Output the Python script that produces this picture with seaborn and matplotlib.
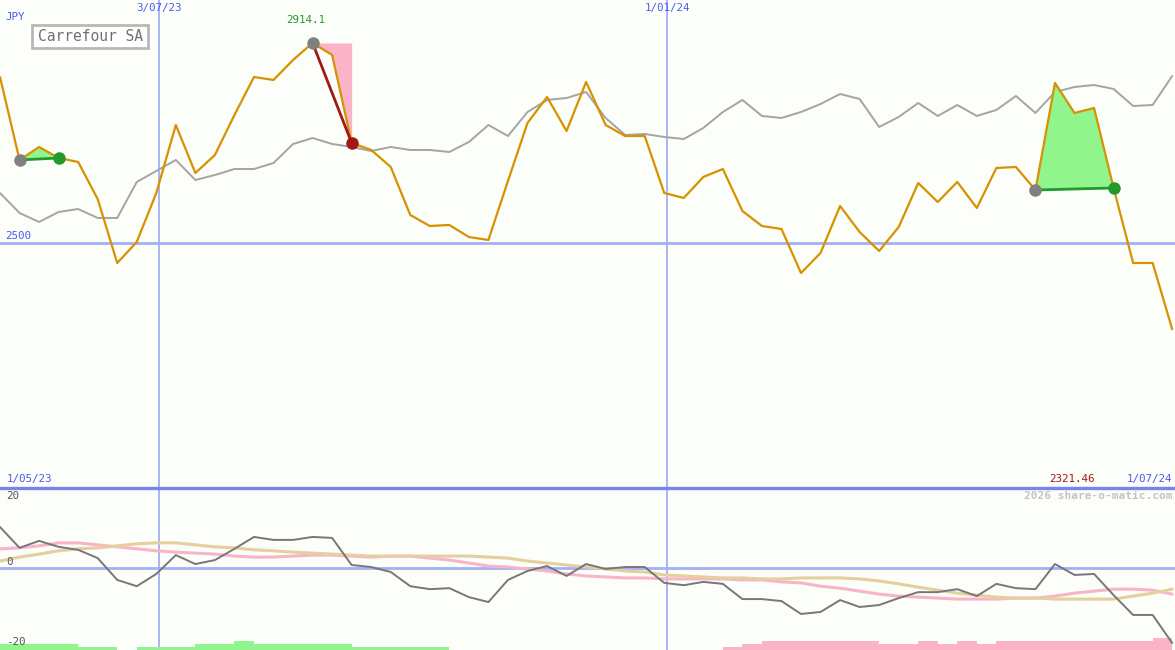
import numpy as np
import pandas as pd
import matplotlib
matplotlib.use("Agg")
import matplotlib.pyplot as plt
import matplotlib.dates as mdates
from matplotlib.lines import Line2D
import seaborn as sns
from matplotlib.patches import Rectangle

# ---------------- data ----------------
dates = pd.date_range("2023-05-07", periods=61, freq="7D")

price = [2843.7, 2671.9, 2698.8, 2676.0, 2667.7, 2591.1, 2458.6, 2502.1, 2603.5, 2744.3,
         2644.9, 2682.2, 2765.0, 2843.7, 2837.5, 2878.9, 2914.1, 2889.3, 2707.1, 2692.6,
         2657.4, 2558.0, 2535.2, 2537.3, 2512.4, 2506.2, 2628.4, 2748.5, 2802.3, 2731.9,
         2833.4, 2744.3, 2721.5, 2721.5, 2603.5, 2593.2, 2636.7, 2653.2, 2566.3, 2535.2,
         2529.0, 2437.9, 2479.3, 2576.6, 2522.8, 2483.4, 2533.1, 2624.2, 2584.9, 2626.3,
         2572.5, 2655.3, 2657.4, 2609.7, 2831.3, 2769.2, 2779.5, 2613.9, 2458.6, 2458.6,
         2321.46]

index_cmp = [2603.5, 2562.1, 2543.5, 2564.2, 2570.4, 2551.8, 2551.8, 2626.3, 2649.1, 2671.9,
             2630.4, 2640.8, 2653.2, 2653.2, 2665.6, 2705.0, 2717.4, 2705.0, 2698.8, 2690.5,
             2698.8, 2692.6, 2692.6, 2688.4, 2709.1, 2744.3, 2721.5, 2771.2, 2796.1, 2800.2,
             2812.6, 2758.8, 2723.6, 2725.7, 2719.5, 2715.3, 2738.1, 2771.2, 2796.1, 2763.0,
             2758.8, 2771.2, 2787.8, 2808.5, 2798.2, 2740.2, 2760.9, 2789.9, 2763.0, 2785.7,
             2763.0, 2775.4, 2804.4, 2769.2, 2812.6, 2823.0, 2827.1, 2818.9, 2783.7, 2785.7,
             2845.8]

momentum = [12.4, 6.1, 8.2, 6.4, 5.5, 3.0, -3.6, -5.5, -1.8, 3.9,
            1.2, 2.4, 5.8, 9.4, 8.5, 8.5, 9.4, 9.1, 0.9, 0.3,
            -1.2, -5.5, -6.4, -6.1, -8.8, -10.3, -3.6, -0.9, 0.6, -2.4,
            1.2, -0.3, 0.3, 0.3, -4.5, -5.2, -4.2, -4.8, -9.4, -9.4,
            -10.0, -13.9, -13.3, -9.7, -11.8, -11.2, -9.1, -7.3, -7.3, -6.4,
            -8.5, -4.8, -6.1, -6.4, 1.2, -2.1, -1.8, -8.2, -14.2, -14.2,
            -22.7]

avg_pink = [5.8, 6.1, 6.7, 7.6, 7.6, 7.0, 6.4, 5.8, 5.2, 4.8,
            4.5, 4.2, 3.6, 3.3, 3.3, 3.6, 3.9, 3.9, 3.6, 3.3,
            3.6, 3.6, 3.0, 2.4, 1.5, 0.6, 0.3, -0.3, -0.9, -1.8,
            -2.4, -2.7, -3.0, -3.0, -3.3, -3.3, -3.3, -3.3, -3.6, -3.6,
            -4.2, -4.5, -5.5, -6.1, -7.0, -7.9, -8.5, -8.8, -9.1, -9.4,
            -9.4, -9.4, -9.1, -9.1, -8.5, -7.6, -7.0, -6.4, -6.4, -6.7,
            -7.9]

avg_tan = [2.1, 3.3, 4.2, 5.2, 5.8, 6.1, 6.7, 7.3, 7.6, 7.6,
           7.0, 6.4, 6.1, 5.5, 5.2, 4.8, 4.5, 4.2, 3.9, 3.6,
           3.6, 3.6, 3.6, 3.6, 3.6, 3.3, 3.0, 2.1, 1.5, 0.9,
           0.3, -0.3, -0.9, -1.2, -2.1, -2.4, -2.7, -3.0, -3.0, -3.3,
           -3.3, -3.0, -3.0, -3.0, -3.3, -3.9, -4.8, -5.8, -6.7, -7.6,
           -8.2, -8.8, -9.1, -9.1, -9.4, -9.4, -9.4, -9.4, -8.5, -7.6,
           -6.4]

# signal bars per weekly interval (positive = green, negative = pink), 60 intervals
bar_levels = [2, 2, 2, 2, 1, 1, 0, 1, 1, 1,
              2, 2, 3, 2, 2, 2, 2, 2, 1, 1,
              1, 1, 1, 0, 0, 0, 0, 0, 0, 0,
              0, 0, 0, 0, 0, 0, 0, -1, -2, -3,
              -3, -3, -3, -3, -3, -2, -2, -3, -2, -3,
              -2, -3, -3, -3, -3, -3, -3, -3, -3, -4]

# trade signals: (start index, end index, outcome)
signals = [(1, 3, "gain"), (16, 18, "loss"), (53, 57, "gain")]

vlines_dates = [pd.Timestamp("2023-07-03"), pd.Timestamp("2024-01-01")]
vline_labels = ["3/07/23", "1/01/24"]
ref_level = 2500
max_label = "2914.1"
last_label = "2321.46"
title = "Carrefour SA"
currency = "JPY"
left_date_label = "1/05/23"
right_date_label = "1/07/24"
watermark = "2026 share-o-matic.com"
osc_ticks = ["20", "0", "-20"]

# ---------------- styling ----------------
sns.set_style("white")
plt.rcParams["font.family"] = ["DejaVu Sans Mono", "DejaVu Sans"]

BG = "#fcfefa"
BLUE_TXT = "#4a5af0"
BLUE_LINE = "#a3b0f5"
BLUE_SEP = "#7684ee"
ORANGE = "#d89100"
GRAY = "#a4a4a4"
GREEN = "#22992a"
LGREEN = "#90f58c"
PINK = "#fbb3c8"
DRED = "#a01818"

xmin = dates[0]
xmax = pd.Timestamp("2024-07-01")
dnum = mdates.date2num(dates)

fig = plt.figure(figsize=(11.75, 6.5), dpi=100, facecolor=BG)
ax = fig.add_axes([0, 163 / 650, 1, 487 / 650], facecolor=BG)
ax2 = fig.add_axes([0, 0, 1, 163 / 650], facecolor=BG)

df = pd.DataFrame({"date": dates, "price": price, "index": index_cmp,
                   "mom": momentum, "pink": avg_pink, "tan": avg_tan})

# ---- top panel ----
ax.axhline(ref_level, color=BLUE_LINE, lw=2, zorder=1)
for d in vlines_dates:
    ax.axvline(d, color=BLUE_LINE, lw=1.3, zorder=1)

sns.lineplot(data=df, x="date", y="index", ax=ax, color=GRAY, lw=1.4, zorder=2)

# signal fills
for s, e, kind in signals:
    xs = dates[s:e + 1]
    ys = np.array(price[s:e + 1])
    if kind == "gain":
        chord = np.linspace(price[s], price[e], len(xs))
        ax.fill_between(xs, ys, chord, color=LGREEN, lw=0, zorder=2)
    else:
        ax.fill_between(xs, ys, price[s], color=PINK, lw=0, zorder=2)

sns.lineplot(data=df, x="date", y="price", ax=ax, color=ORANGE, lw=1.6, zorder=3)

for s, e, kind in signals:
    c = GREEN if kind == "gain" else DRED
    ax.plot([dates[s], dates[e]], [price[s], price[e]], color=c, lw=2, zorder=4)
    ax.plot([dates[s]], [price[s]], "o", ms=8, color="#808080", zorder=5)
    ax.plot([dates[e]], [price[e]], "o", ms=8, color=c, zorder=5)

ax.set_xlim(xmin, xmax)
ax.set_ylim(1994.8, 3003.1)
ax.set_xticks([]); ax.set_yticks([])
ax.set_xlabel(""); ax.set_ylabel("")
for sp in ax.spines.values():
    sp.set_visible(False)

fs = 7.8
for d, lab in zip(vlines_dates, vline_labels):
    ax.text(mdates.date2num(d), 0.984, lab, transform=ax.get_xaxis_transform(),
            ha="center", va="center", color=BLUE_TXT, fontsize=fs)
ax.text(0.005, 0.965, currency, transform=ax.transAxes, ha="left", va="center",
        color=BLUE_TXT, fontsize=fs)
ax.text(0.004, ref_level + 4, str(ref_level), transform=ax.get_yaxis_transform(),
        ha="left", va="bottom", color=BLUE_TXT, fontsize=fs)
imax = int(np.argmax(price))
ax.annotate(max_label, (dnum[imax], 0.959), xycoords=ax.get_xaxis_transform(),
            xytext=(-5, 0), textcoords="offset points", ha="center", va="center",
            color=GREEN, fontsize=fs)
ax.text(0.006, 0.016, left_date_label, transform=ax.transAxes, ha="left", va="center",
        color=BLUE_TXT, fontsize=fs)
ax.text(0.998, 0.016, right_date_label, transform=ax.transAxes, ha="right", va="center",
        color=BLUE_TXT, fontsize=fs)
ax.text(0.912, 0.016, last_label, transform=ax.transAxes, ha="center", va="center",
        color=DRED, fontsize=fs)

# legend box
ax.add_patch(Rectangle((32 / 1175, 1 - 48 / 487), 116 / 1175, 23 / 487, transform=ax.transAxes,
                       facecolor="white", edgecolor="#b8b8b8", lw=2, zorder=6))
ax.text(90 / 1175, 1 - 36.5 / 487, title, transform=ax.transAxes, ha="center", va="center",
        color="#707070", fontsize=10.5, zorder=7)

# ---- bottom panel ----
ax2.axhline(0, color=BLUE_LINE, lw=2, zorder=1)
for d in vlines_dates:
    ax2.axvline(d, color=BLUE_LINE, lw=1.3, zorder=1)

ybot = -24.8
lvl = 0.91
for i, b in enumerate(bar_levels):
    if b == 0:
        continue
    ax2.bar(dnum[i], abs(b) * lvl, width=7, bottom=ybot, align="edge",
            color=LGREEN if b > 0 else PINK, lw=0, zorder=1)

sns.lineplot(data=df, x="date", y="pink", ax=ax2, color="#f9b4c8", lw=2.2, zorder=2)
sns.lineplot(data=df, x="date", y="tan", ax=ax2, color="#e6cf9e", lw=2.2, zorder=2)
sns.lineplot(data=df, x="date", y="mom", ax=ax2, color="#777777", lw=1.4, zorder=3)

ax2.set_xlim(xmin, xmax)
ax2.set_ylim(ybot, 24.5)
ax2.set_xticks([]); ax2.set_yticks([])
ax2.set_xlabel(""); ax2.set_ylabel("")
for sp in ax2.spines.values():
    sp.set_visible(False)

for lab, yv in zip(osc_ticks, [21.8, 1.8, -22.4]):
    ax2.text(0.005, yv, lab, transform=ax2.get_yaxis_transform(), ha="left", va="center",
             color="#555555", fontsize=fs)
ax2.text(0.998, 0.945, watermark, transform=ax2.transAxes, ha="right", va="center",
         color="#c4c4c4", fontsize=8, fontweight="bold")

# panel separator
fig.add_artist(Line2D([0, 1], [162.5 / 650, 162.5 / 650], transform=fig.transFigure,
                      color=BLUE_SEP, lw=2.4, zorder=10))

fig.savefig("out.png", dpi=100, facecolor=BG)
